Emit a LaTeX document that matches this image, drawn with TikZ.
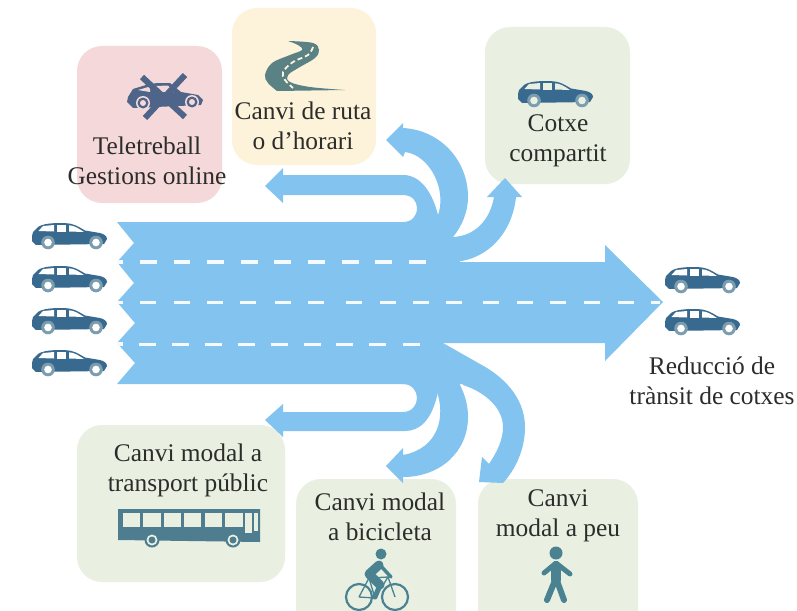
\documentclass[tikz,border=0pt]{standalone}
\usepackage{fontspec}
\setmainfont{Liberation Serif}
\definecolor{flow}{HTML}{82C3EF}
\definecolor{carblue}{HTML}{38698F}
\definecolor{wheelring}{HTML}{7C9DAE}
\definecolor{pinkbox}{HTML}{F5D9DA}
\definecolor{yellowbox}{HTML}{FDF3DA}
\definecolor{greenbox}{HTML}{E9F0E2}
\definecolor{crosscar}{HTML}{4E6488}
\definecolor{roadcol}{HTML}{5A8184}
\definecolor{buscol}{HTML}{4E7D90}
\definecolor{personcol}{HTML}{4A8292}
\definecolor{inkcol}{HTML}{2C2C2A}
\tikzset{
  x=1pt,y=-1pt,
  panel/.style={rounded corners=25pt},
  flowshape/.style={fill=flow,draw=none},
  lanedash/.style={draw=white!92!flow,line width=3.2pt},
  label/.style={text=inkcol,align=center,inner sep=0pt,font=\fontsize{25.4}{30}\selectfont},
  pics/carpic/.style={code={
    \fill[carblue] (0,13) -- (1,9) -- (6,4) .. controls (10,1.5) and (14,0.5) .. (26,0)
      -- (34,0.2) .. controls (40,0.5) and (44,2) .. (53,7.5)
      -- (68,10) .. controls (72,11) and (75,13) .. (75,16) -- (72,21) -- (4,22) -- (0,18) -- cycle;
    \fill[#1] (6.5,8) -- (11,3) -- (22,2) -- (22,8.5) -- cycle;
    \fill[#1] (25,2) -- (34,2) -- (34,8.5) -- (25,8.5) -- cycle;
    \fill[#1] (37,2.3) .. controls (42,2.5) and (46,5) .. (52,9) -- (37,8.5) -- cycle;
    \fill[wheelring] (16,19.5) circle[radius=6.8];
    \fill[#1] (16,19.5) circle[radius=3.8];
    \fill[wheelring] (64,19.5) circle[radius=6.8];
    \fill[#1] (64,19.5) circle[radius=3.8];
  }},
}
\begin{document}
\begin{tikzpicture}
\useasboundingbox (0,0) rectangle (797,610);
\clip (0,0) rectangle (797,610);
\fill[white] (0,0) rectangle (797,610);

% panels
\fill[pinkbox,panel] (77,46) rectangle (222,203);
\fill[yellowbox,panel] (232,8) rectangle (376,165);
\fill[greenbox,panel] (485,27) rectangle (630,184);
\fill[greenbox,panel] (77,425) rectangle (285,582);
\fill[greenbox,panel] (296,479) rectangle (456,640);
\fill[greenbox,panel] (478,479) rectangle (638,640);

% main flow
\path[flowshape] (117,222) -- (440,222) -- (453,240) -- (460,262) -- (605,262) -- (605,245)
  -- (663,302) -- (605,361) -- (605,343) -- (443,343) -- (463,384) -- (117,384)
  -- (135,363) -- (117,343) -- (135,323) -- (117,302) -- (134,283) -- (117,262) -- (134,243) -- cycle;

% upper branches
\path[flowshape] (265,186) -- (283,168) -- (283,175) -- (403,175)
  .. controls (422,175) and (433,195) .. (438,215) -- (438,226) -- (403,226) -- (403,222)
  .. controls (412,222) and (417,216) .. (417,208) .. controls (417,201) and (412,195) .. (403,195)
  -- (283,195) -- (283,203) -- cycle;
\path[flowshape] (386,140) -- (403,123) -- (403,128)
  .. controls (440,130) and (468,160) .. (468,197) .. controls (468,212) and (462,226) .. (453,237)
  -- (453,245) -- (430,245) -- (438,215)
  .. controls (447,190) and (430,155) .. (405,152) -- (403,157) -- cycle;
\path[flowshape] (505,178) -- (522,197) -- (516,197)
  .. controls (512,235) and (485,262) .. (450,262) -- (440,240) -- (453,237)
  .. controls (475,236) and (490,220) .. (494,197) -- (487,197) -- cycle;

% lower branches
\path[flowshape] (265,420) -- (283,404) -- (283,412) -- (403,412)
  .. controls (412,412) and (417,405) .. (417,398) .. controls (417,391) and (412,384) .. (403,384)
  -- (403,380) -- (438,380) -- (438,392)
  .. controls (432,420) and (420,431) .. (405,431) -- (283,431) -- (283,437) -- cycle;
\path[flowshape] (386,466) -- (403,448) -- (403,455)
  .. controls (440,448) and (445,415) .. (437,392) -- (425,380) -- (460,380) -- (460,385)
  .. controls (465,395) and (468,405) .. (468,417) .. controls (468,452) and (440,477) .. (403,477)
  -- (403,483) -- cycle;
\path[flowshape] (443,343) -- (480,364) .. controls (510,380) and (525,403) .. (525,427)
  .. controls (525,450) and (515,470) .. (503,483) -- (479,482) -- (482,457) -- (489,464)
  .. controls (497,452) and (503,440) .. (503,427) .. controls (503,408) and (485,392) .. (463,385) -- cycle;

% lane markings
\foreach \xa in {140,173.5,207,241,274,308,342,375,409}
  \draw[lanedash] (\xa,262) -- ++(16.5,0);
\foreach \xa in {140,173.5,207,240,275,308,346,380,413,446,483,517,550,584,618}
  \draw[lanedash] (\xa,302.5) -- ++(16,0);
\draw[lanedash] (651,302.5) -- (660,302.5);
\foreach \xa in {139,172,205,238,271,304,336,369,403}
  \draw[lanedash] (\xa,344.5) -- ++(16.5,0);
\draw[lanedash] (117,262) -- (123,262);
\draw[lanedash] (117,302.5) -- (123,302.5);
\draw[lanedash] (117,344) -- (123,344);

% cars
\pic at (32,223) {carpic=white};
\pic at (32,266) {carpic=white};
\pic at (32,308) {carpic=white};
\pic at (32,350) {carpic=white};
\pic at (665,267) {carpic=white};
\pic at (665,309) {carpic=white};
\pic at (518,81) {carpic=greenbox};

% crossed car
\fill[crosscar] (128,97) -- (133,89) -- (146,85) -- (157,83) -- (170,83) -- (181,92) -- (198,95)
  -- (203,100) -- (201,105) -- (133,108) -- (127,102) -- cycle;
\fill[pinkbox] (138,90) -- (150,86.5) -- (150,92) -- cycle;
\fill[pinkbox] (156,86) -- (168,85.5) -- (174,92) -- (158,92) -- cycle;
\fill[pinkbox] (143,103) circle[radius=7];
\fill[crosscar] (143,103) circle[radius=5.5];
\fill[pinkbox] (143,103) circle[radius=3];
\fill[pinkbox] (192,102) circle[radius=7];
\fill[crosscar] (192,102) circle[radius=5.5];
\fill[pinkbox] (192,102) circle[radius=3];
\draw[crosscar,line width=6pt] (142,77) -- (185,117);
\draw[crosscar,line width=6pt] (185,75) -- (145,118);

% road
\fill[roadcol] plot[smooth,tension=0.6] coordinates {(288,41) (313,43) (319,50) (315,58) (300,67) (288,75) (290,82) (310,87) (345,90)}
  -- plot[smooth,tension=0.6] coordinates {(277,91) (268,83) (265,75) (272,63) (290,55) (302,50) (298,45) (288,41)} -- cycle;
\draw[yellowbox,line width=1.8pt,dash pattern=on 5pt off 3pt]
  plot[smooth,tension=0.6] coordinates {(313,47) (308,55) (293,62) (283,72) (285,80) (293,88)};

% bus
\fill[buscol] (118,509) -- (260,509) -- (260,542) -- (118,540) -- cycle;
\foreach \xa/\xb in {123/140,143/161,164/181,184/201,205/222,225/243}
  \fill[greenbox] (\xa,513) rectangle (\xb,527);
\fill[greenbox] (245,513) rectangle (252,533);
\fill[greenbox] (254,513) rectangle (258,531);
\foreach \xa in {152,233}{
  \fill[buscol] (\xa,540) circle[radius=7.5];
  \fill[greenbox] (\xa,540) circle[radius=5.5];
  \fill[buscol] (\xa,540) circle[radius=3.5];
}

% cyclist
\fill[personcol] (381,554) circle[radius=5.5];
\draw[personcol,line width=2.2pt] (359,597) circle[radius=13];
\draw[personcol,line width=2.2pt] (395,597) circle[radius=13];
\draw[personcol,line width=1.3pt] (359,597) -- (369,578) -- (388,577) -- (395,597);
\draw[personcol,line width=1.3pt] (359,597) -- (375,598) -- (388,577);
\draw[personcol,line width=1.3pt] (369,578) -- (375,598);
\draw[personcol,line width=9pt,line cap=round,line join=round] (379,565) -- (369,574) -- (380,585);
\draw[personcol,line width=5pt,line cap=round,line join=round] (380,585) -- (375,597);
\draw[personcol,line width=3.5pt,line cap=round,line join=round] (380,565) -- (391,577);

% walker
\fill[personcol] (556,553) circle[radius=6.5];
\draw[personcol,line width=10pt,line cap=round,line join=round] (556,567) -- (556,580);
\draw[personcol,line width=5pt,line cap=round,line join=round] (544,573) -- (556,563) -- (570,574);
\draw[personcol,line width=6pt,line cap=round,line join=round] (547,600) -- (556,578) -- (564,600);

% labels
\node[label] (tele) at (147,161) {Teletreball\\Gestions online};
\node[label] (ruta) at (303,126) {Canvi de ruta\\o d’horari};
\node[label] (cotxe) at (558,141) {Cotxe\\compartit};
\node[label] (bus) at (188,470) {Canvi modal a\\transport públic};
\node[label] (bici) at (380,517) {Canvi modal\\a bicicleta};
\node[label] (peu) at (558,516) {Canvi\\modal a peu};
\node[label] (redu) at (712,381) {Reducció de\\trànsit de cotxes};
\end{tikzpicture}
\end{document}
